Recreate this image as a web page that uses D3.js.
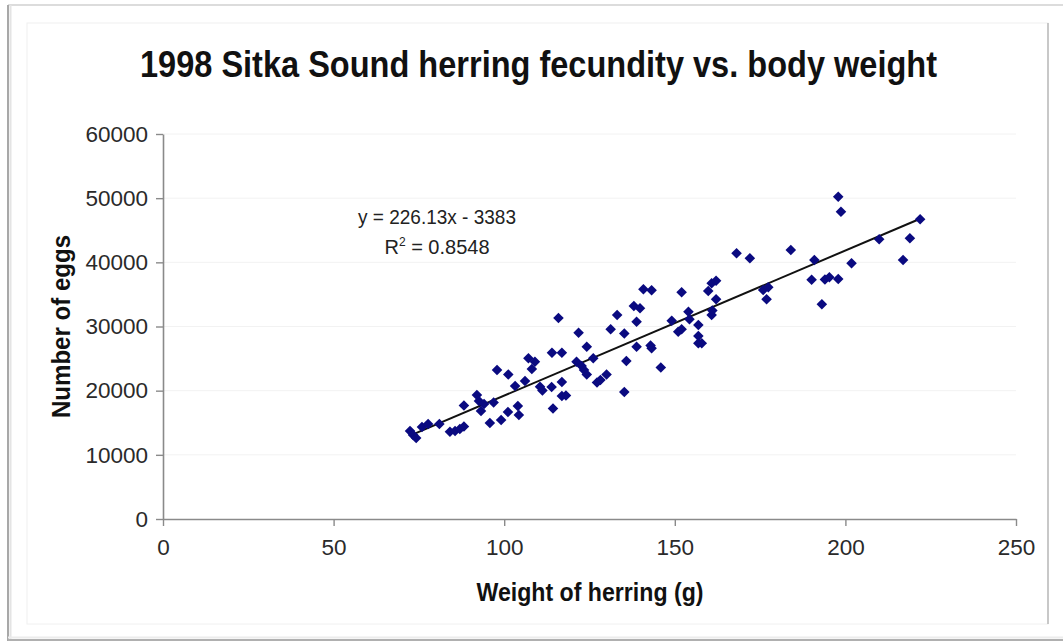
<!DOCTYPE html>
<html>
<head>
<meta charset="utf-8">
<script src="https://cdn.jsdelivr.net/npm/d3@7"></script>
<style>
  html, body { margin: 0; padding: 0; background: #fff; }
  svg { display: block; }
  text { font-family: "Liberation Sans", Arial, sans-serif; }
</style>
</head>
<body>
<svg id="chart" width="1063" height="642"></svg>
<script>
// ---- data ----
const weights = [72.4, 73.3, 74.2, 75.9, 77.7, 81.0, 84.1, 85.6, 87.0, 88.2,
  88.2, 92.0, 92.6, 94.1, 93.2, 96.9, 95.8, 99.1, 101.1, 104.0,
  104.3, 97.9, 101.2, 103.2, 106.1, 107.1, 109.0, 108.1, 110.5, 111.2,
  113.9, 116.9, 116.9, 118.1, 114.3, 115.9, 121.8, 114.0, 116.9, 124.2,
  121.2, 122.7, 123.4, 124.2, 126.1, 127.2, 128.2, 130.0, 135.2, 133.1,
  131.2, 135.2, 138.0, 139.8, 138.8, 135.8, 138.8, 140.8, 143.2, 142.9,
  143.2, 145.9, 149.1, 152.0, 154.0, 154.3, 151.0, 152.0, 156.9, 156.9,
  156.9, 157.9, 159.8, 160.8, 162.1, 162.1, 160.8, 161.0, 168.1, 172.0,
  175.9, 177.4, 176.9, 184.0, 190.9, 190.1, 194.0, 195.3, 197.9, 193.1,
  201.8, 197.9, 198.7, 209.9, 216.9, 218.9, 221.9];
const eggs = [13714, 13091, 12623, 14338, 14805, 14805, 13605, 13714, 14026, 14416,
  17688, 19325, 18390, 17922, 16831, 18156, 14961, 15428, 16675, 17610,
  16208, 23221, 22519, 20727, 21506, 25044, 24514, 23376, 20618, 20026,
  20571, 21350, 19169, 19247, 17221, 31325, 29034, 25917, 25917, 26852,
  24514, 23844, 23221, 22519, 25044, 21273, 21662, 22519, 19792, 31792,
  29564, 28909, 33195, 32837, 30748, 24623, 26852, 35797, 35641, 27039,
  26603, 23610, 30904, 35330, 32306, 31122, 29190, 29564, 30234, 28519,
  27382, 27382, 35532, 36732, 37137, 34239, 31792, 32494, 41407, 40628,
  35688, 36109, 34239, 41922, 40363, 37293, 37325, 37667, 37402, 33475,
  39849, 50228, 47891, 43589, 40363, 43745, 46706];
const xTicks = [0, 50, 100, 150, 200, 250];
const yTicks = [0, 10000, 20000, 30000, 40000, 50000, 60000];
const trendCoef = [226.13, -3383];           // slope, intercept
const equationLabel = "y = 226.13x - 3383";
const r2Label = ["R", "2", " = 0.8548"];
const titleText = "1998 Sitka Sound herring fecundity vs. body weight";
const xTitle = "Weight of herring (g)";
const yTitle = "Number of eggs";

// ---- drawing ----
const svg = d3.select("#chart");
const x = d3.scaleLinear().domain([0, 250]).range([163, 1016]);
const y = d3.scaleLinear().domain([0, 60000]).range([519, 134]);

// window-like frame
svg.append("rect").attr("x", 27).attr("y", 23).attr("width", 1021).attr("height", 601)
  .attr("fill", "#fff").attr("stroke", "#f0f0f0").attr("stroke-width", 1);
svg.append("line").attr("x1", 1048).attr("x2", 1048).attr("y1", 23).attr("y2", 624)
  .attr("stroke", "#b8b8b8").attr("stroke-width", 1.5);
svg.append("line").attr("x1", 8).attr("x2", 1063).attr("y1", 5).attr("y2", 5)
  .attr("stroke", "#d0d0d0").attr("stroke-width", 1.5);
svg.append("line").attr("x1", 8).attr("x2", 8).attr("y1", 5).attr("y2", 641)
  .attr("stroke", "#a8a8a8").attr("stroke-width", 2);
svg.append("line").attr("x1", 10.5).attr("x2", 10.5).attr("y1", 5).attr("y2", 640)
  .attr("stroke", "#e4e4e4").attr("stroke-width", 2);
svg.append("line").attr("x1", 8).attr("x2", 1063).attr("y1", 640).attr("y2", 640)
  .attr("stroke", "#b0b0b0").attr("stroke-width", 2);
svg.append("line").attr("x1", 8).attr("x2", 1063).attr("y1", 637.5).attr("y2", 637.5)
  .attr("stroke", "#ececec").attr("stroke-width", 2);

// faint gridlines
svg.append("g").selectAll("line").data(yTicks.slice(1)).join("line")
  .attr("x1", x(0)).attr("x2", x(250))
  .attr("y1", d => y(d)).attr("y2", d => y(d))
  .attr("stroke", "#f2f2f2").attr("stroke-width", 1);

// axes
const xAxis = d3.axisBottom(x).tickValues(xTicks).tickSize(7).tickSizeOuter(0).tickPadding(13);
const yAxis = d3.axisLeft(y).tickValues(yTicks).tickSize(7).tickSizeOuter(0).tickPadding(8)
  .tickFormat(d3.format("d"));

const gx = svg.append("g").attr("transform", `translate(0,${y(0)})`).call(xAxis);
const gy = svg.append("g").attr("transform", `translate(${x(0)},0)`).call(yAxis);
[gx, gy].forEach(g => {
  g.select(".domain").attr("stroke", "#8a8a8a").attr("stroke-width", 1.6);
  g.selectAll(".tick line").attr("stroke", "#8a8a8a").attr("stroke-width", 1.4);
  g.selectAll(".tick text").attr("fill", "#2a2a2a").attr("font-size", 22.5)
    .attr("font-family", "'Liberation Sans', Arial, sans-serif");
});

// trendline
const xr = d3.extent(weights);
svg.append("line")
  .attr("x1", x(xr[0])).attr("y1", y(trendCoef[0] * xr[0] + trendCoef[1]))
  .attr("x2", x(xr[1])).attr("y2", y(trendCoef[0] * xr[1] + trendCoef[1]))
  .attr("stroke", "#111").attr("stroke-width", 2);

// points (diamonds)
const sym = d3.symbol().type(d3.symbolSquare).size(56);
svg.append("g").selectAll("path").data(weights.map((w, i) => [w, eggs[i]])).join("path")
  .attr("d", sym)
  .attr("transform", d => `translate(${x(d[0])},${y(d[1])}) rotate(45)`)
  .attr("fill", "#0a0a80");

// title
svg.append("text").attr("x", 538.5).attr("y", 77).attr("text-anchor", "middle")
  .attr("font-size", 36).attr("font-weight", "bold").attr("fill", "#111")
  .attr("textLength", 797).attr("lengthAdjust", "spacingAndGlyphs")
  .text(titleText);

// axis titles
svg.append("text").attr("x", 590).attr("y", 601).attr("text-anchor", "middle")
  .attr("font-size", 25).attr("font-weight", "bold").attr("fill", "#111")
  .attr("textLength", 227).attr("lengthAdjust", "spacingAndGlyphs")
  .text(xTitle);
svg.append("text").attr("transform", "translate(70,326.5) rotate(-90)")
  .attr("text-anchor", "middle")
  .attr("font-size", 25).attr("font-weight", "bold").attr("fill", "#111")
  .attr("textLength", 183).attr("lengthAdjust", "spacingAndGlyphs")
  .text(yTitle);

// equation
svg.append("text").attr("x", 437).attr("y", 224).attr("text-anchor", "middle")
  .attr("font-size", 20).attr("fill", "#222")
  .attr("textLength", 158).attr("lengthAdjust", "spacingAndGlyphs")
  .text(equationLabel);
const r2 = svg.append("text").attr("x", 437).attr("y", 254).attr("text-anchor", "middle")
  .attr("font-size", 20).attr("fill", "#222");
r2.append("tspan").text(r2Label[0]);
r2.append("tspan").attr("font-size", 12).attr("dy", -8).text(r2Label[1]);
r2.append("tspan").attr("dy", 8).text(r2Label[2]);
</script>
</body>
</html>
